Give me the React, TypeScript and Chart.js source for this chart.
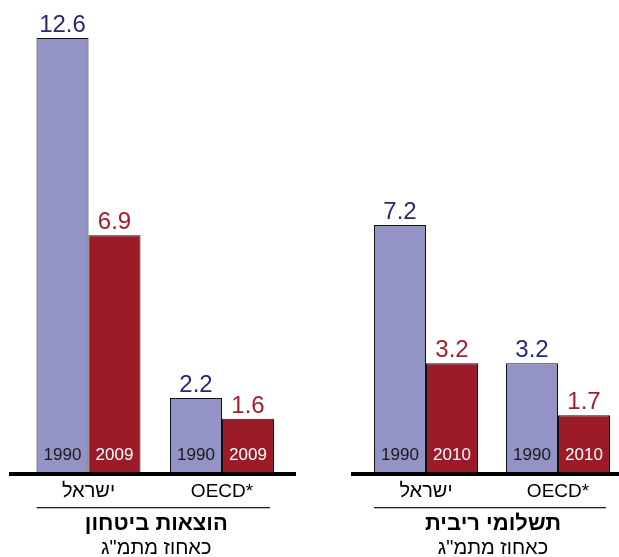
import React, { useEffect, useRef } from "react";
import { Chart, registerables } from "chart.js";

Chart.register(...registerables);

// ---- data ----
const defenseCategories = ["ישראל", "OECD*"];
const defenseYears = ["1990", "2009"];
const defense1990 = [12.6, 2.2];
const defense2009 = [6.9, 1.6];
const defenseTitle = "הוצאות ביטחון";

const interestCategories = ["ישראל", "OECD*"];
const interestYears = ["1990", "2010"];
const interest1990 = [7.2, 3.2];
const interest2010 = [3.2, 1.7];
const interestTitle = "תשלומי ריבית";

const subtitleText = 'כאחוז מתמ"ג';
const yMax = 13;

// ---- style ----
const FONT = "'Liberation Sans', Arial, sans-serif";
const BAR_COLORS = ["#9493C6", "#9C1B28"];
const VALUE_COLORS = ["#2A2870", "#A51C2C"];
const YEAR_COLORS = ["#1a1a1a", "#ffffff"];
const H = 557;

type PanelCfg = {
  categories: string[];
  years: string[];
  series: number[][];
  title: string;
  padLeft: number;
  padRight: number;
  baseLeft: number;
  baseRight: number;
  width: number;
};

function makeChart(canvas: HTMLCanvasElement, cfg: PanelCfg) {
  const areaW = cfg.width - cfg.padLeft - cfg.padRight;
  const catW = areaW / cfg.categories.length;
  const catPct = 104 / catW;

  const overlay = {
    id: "overlay",
    afterDraw(chart: any) {
      const ctx = chart.ctx as CanvasRenderingContext2D;
      const xs = chart.scales.x;
      const ys = chart.scales.y;
      const area = chart.chartArea;
      const y0 = ys.getPixelForValue(0);
      ctx.save();
      // baseline
      ctx.fillStyle = "#000";
      ctx.fillRect(cfg.baseLeft, y0 - 2, cfg.baseRight - cfg.baseLeft, 4);
      // labels on bars
      chart.data.datasets.forEach((ds: any, di: number) => {
        const meta = chart.getDatasetMeta(di);
        meta.data.forEach((el: any, i: number) => {
          ctx.textAlign = "center";
          ctx.textBaseline = "alphabetic";
          ctx.direction = "ltr";
          ctx.font = `24px ${FONT}`;
          ctx.fillStyle = VALUE_COLORS[di];
          ctx.fillText(ds.data[i].toFixed(1), el.x, el.y - 6);
          ctx.font = `17px ${FONT}`;
          ctx.fillStyle = YEAR_COLORS[di];
          ctx.fillText(cfg.years[di], el.x, y0 - 14);
        });
      });
      // category labels
      ctx.fillStyle = "#000";
      cfg.categories.forEach((c, i) => {
        const x = xs.getPixelForValue(i);
        const heb = /[\u0590-\u05FF]/.test(c);
        ctx.direction = heb ? "rtl" : "ltr";
        ctx.font = `${heb ? 20 : 19}px ${FONT}`;
        ctx.textAlign = "center";
        ctx.fillText(c, x, y0 + 23);
      });
      // separator
      const m0 = chart.getDatasetMeta(0).data[0] as any;
      const mL = chart.getDatasetMeta(1).data[cfg.categories.length - 1] as any;
      const sepL = m0.x - m0.width / 2;
      const sepR = mL.x + mL.width / 2 - 4;
      ctx.fillStyle = "#222";
      ctx.fillRect(sepL, y0 + 33, sepR - sepL, 1.3);
      // titles
      const cx = (area.left + area.right) / 2 + 1;
      ctx.direction = "rtl";
      ctx.textAlign = "center";
      ctx.fillStyle = "#000";
      ctx.font = `bold 22px ${FONT}`;
      ctx.fillText(cfg.title, cx, y0 + 56);
      ctx.font = `20px ${FONT}`;
      ctx.fillText(subtitleText, cx, y0 + 80);
      ctx.restore();
    },
  };

  return new Chart(canvas, {
    type: "bar",
    data: {
      labels: cfg.categories,
      datasets: cfg.series.map((s, i) => ({
        label: cfg.years[i],
        data: s,
        backgroundColor: BAR_COLORS[i],
        borderColor: "#111",
        borderWidth: 1,
        categoryPercentage: catPct,
        barPercentage: 1,
      })),
    },
    options: {
      responsive: false,
      animation: false,
      devicePixelRatio: 1,
      layout: {
        padding: { left: cfg.padLeft, right: cfg.padRight, top: H - 83 - yMax * 34.6, bottom: 83 },
      },
      plugins: { legend: { display: false }, tooltip: { enabled: false }, title: { display: false } },
      scales: {
        x: { display: false },
        y: { display: false, min: 0, max: yMax },
      },
    },
    plugins: [overlay],
  });
}

export default function App() {
  const leftRef = useRef<HTMLCanvasElement>(null);
  const rightRef = useRef<HTMLCanvasElement>(null);

  useEffect(() => {
    const c1 = makeChart(leftRef.current!, {
      categories: defenseCategories,
      years: defenseYears,
      series: [defense1990, defense2009],
      title: defenseTitle,
      padLeft: 21.75,
      padRight: 21.25,
      baseLeft: 9,
      baseRight: 296,
      width: 310,
    });
    const c2 = makeChart(rightRef.current!, {
      categories: interestCategories,
      years: interestYears,
      series: [interest1990, interest2010],
      title: interestTitle,
      padLeft: 30,
      padRight: 6,
      baseLeft: 21,
      baseRight: 300,
      width: 300,
    });
    return () => {
      c1.destroy();
      c2.destroy();
    };
  }, []);

  return (
    <div
      style={{
        position: "absolute",
        left: 0,
        top: 0,
        width: 619,
        height: H,
        overflow: "hidden",
        background: "#fff",
      }}
    >
      <canvas ref={leftRef} width={310} height={H} style={{ position: "absolute", left: 0, top: 0 }} />
      <canvas ref={rightRef} width={300} height={H} style={{ position: "absolute", left: 330, top: 0 }} />
    </div>
  );
}
